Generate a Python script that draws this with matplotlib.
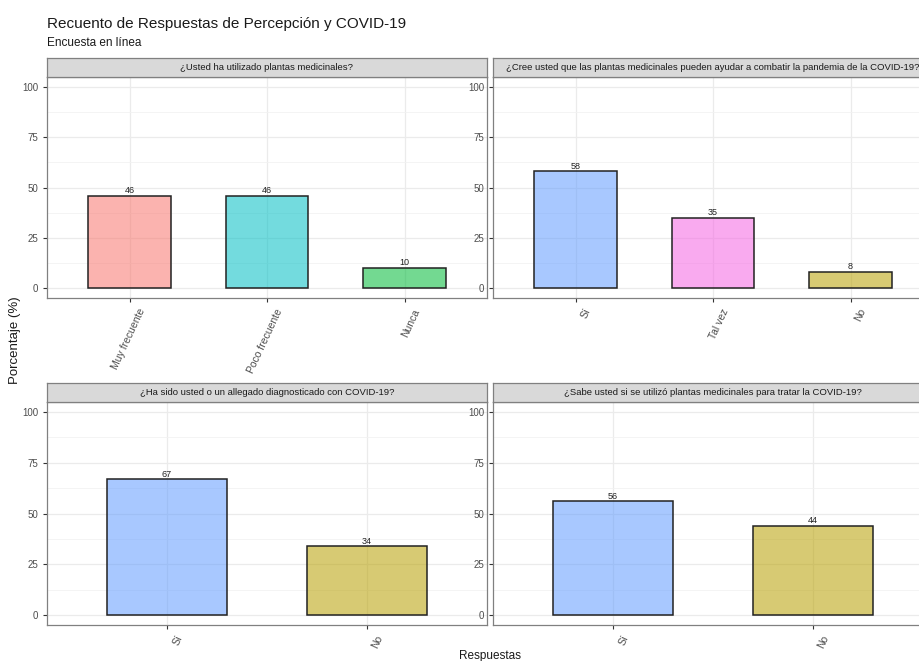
import matplotlib
matplotlib.use("Agg")
import matplotlib.pyplot as plt
from matplotlib.transforms import ScaledTranslation

plt.rcParams["font.family"] = ["Liberation Sans", "DejaVu Sans"]

# Datos
preguntas = [
    "¿Usted ha utilizado plantas medicinales?",
    "¿Cree usted que las plantas medicinales pueden ayudar a combatir la pandemia de la COVID-19?",
    "¿Ha sido usted o un allegado diagnosticado con COVID-19?",
    "¿Sabe usted si se utilizó plantas medicinales para tratar la COVID-19?",
]
respuestas_1 = ["Muy frecuente", "Poco frecuente", "Nunca"]
porcentaje_1 = [46, 46, 10]
respuestas_2 = ["Sí", "Tal vez", "No"]
porcentaje_2 = [58, 35, 8]
respuestas_3 = ["Sí", "No"]
porcentaje_3 = [67, 34]
respuestas_4 = ["Sí", "No"]
porcentaje_4 = [56, 44]

# Paleta hue de ggplot (6 niveles, orden alfabético)
colores = {
    "Muy frecuente": "#F8766D",
    "No": "#B79F00",
    "Nunca": "#00BA38",
    "Poco frecuente": "#00BFC4",
    "Sí": "#619CFF",
    "Tal vez": "#F564E3",
}

W, H = 919, 661
fig = plt.figure(figsize=(W / 100, H / 100), dpi=100)

def caja(x0, y0, x1, y1):
    return [x0 / W, 1 - y1 / H, (x1 - x0) / W, (y1 - y0) / H]

paneles = [
    (respuestas_1, porcentaje_1, caja(47, 77, 487, 298), caja(47, 58, 487, 77)),
    (respuestas_2, porcentaje_2, caja(493, 77, 933, 298), caja(493, 58, 933, 77)),
    (respuestas_3, porcentaje_3, caja(47, 402, 487, 625), caja(47, 383, 487, 402)),
    (respuestas_4, porcentaje_4, caja(493, 402, 933, 625), caja(493, 383, 933, 402)),
]

for i, (cats, vals, pos, pos_strip) in enumerate(paneles):
    ax = fig.add_axes(pos)
    x = list(range(1, len(cats) + 1))
    ax.bar(x, vals, width=0.6, color=[colores[c] for c in cats], alpha=0.55,
           linewidth=0, zorder=3)
    ax.bar(x, vals, width=0.6, color="none", edgecolor="#222222", linewidth=1.1, zorder=4)
    for xi, v in zip(x, vals):
        ax.annotate(str(v), (xi, v), xytext=(0, 0.3), textcoords="offset points",
                    ha="center", va="bottom", fontsize=6.5, color="#222222", zorder=5)
    ax.set_xlim(0.4, len(cats) + 0.6)
    ax.set_ylim(-5, 105)
    ax.set_yticks([0, 25, 50, 75, 100])
    ax.set_yticks([12.5, 37.5, 62.5, 87.5], minor=True)
    ax.set_xticks(x)
    ax.grid(True, which="major", color="#EBEBEB", linewidth=0.9, zorder=0)
    ax.grid(True, which="minor", axis="y", color="#F2F2F2", linewidth=0.6, zorder=0)
    ax.tick_params(axis="y", which="minor", length=0)
    ax.tick_params(axis="both", which="major", length=3, color="#333333",
                   labelsize=7, labelcolor="#4D4D4D", width=0.8)
    ax.set_xticklabels(cats, rotation=65, ha="right", va="top", rotation_mode="anchor",
                       fontsize=7.5)
    off = ScaledTranslation(6 / 72, 0, fig.dpi_scale_trans)
    for lab in ax.get_xticklabels():
        lab.set_transform(lab.get_transform() + off)
    for s in ax.spines.values():
        s.set_color("#808080")
        s.set_linewidth(0.9)
    ax.set_axisbelow(True)

    axs = fig.add_axes(pos_strip)
    axs.set_facecolor("#D9D9D9")
    axs.set_xticks([])
    axs.set_yticks([])
    for s in axs.spines.values():
        s.set_color("#808080")
        s.set_linewidth(0.9)
    axs.text(0.5, 0.5, preguntas[i], ha="center", va="center",
             fontsize=6.8, color="#1A1A1A", transform=axs.transAxes)

fig.text(47 / W, 1 - 24 / H, "Recuento de Respuestas de Percepción y COVID-19",
         fontsize=11, color="#1A1A1A", va="center", ha="left")
fig.text(47 / W, 1 - 43 / H, "Encuesta en línea",
         fontsize=8.5, color="#1A1A1A", va="center", ha="left")
fig.text(15 / W, 1 - 340 / H, "Porcentaje (%)", rotation=90,
         fontsize=9.5, color="#1A1A1A", va="center", ha="center")
fig.text(490 / W, 1 - 656 / H, "Respuestas",
         fontsize=8.5, color="#1A1A1A", va="center", ha="center")

fig.savefig("out.png", dpi=100)
